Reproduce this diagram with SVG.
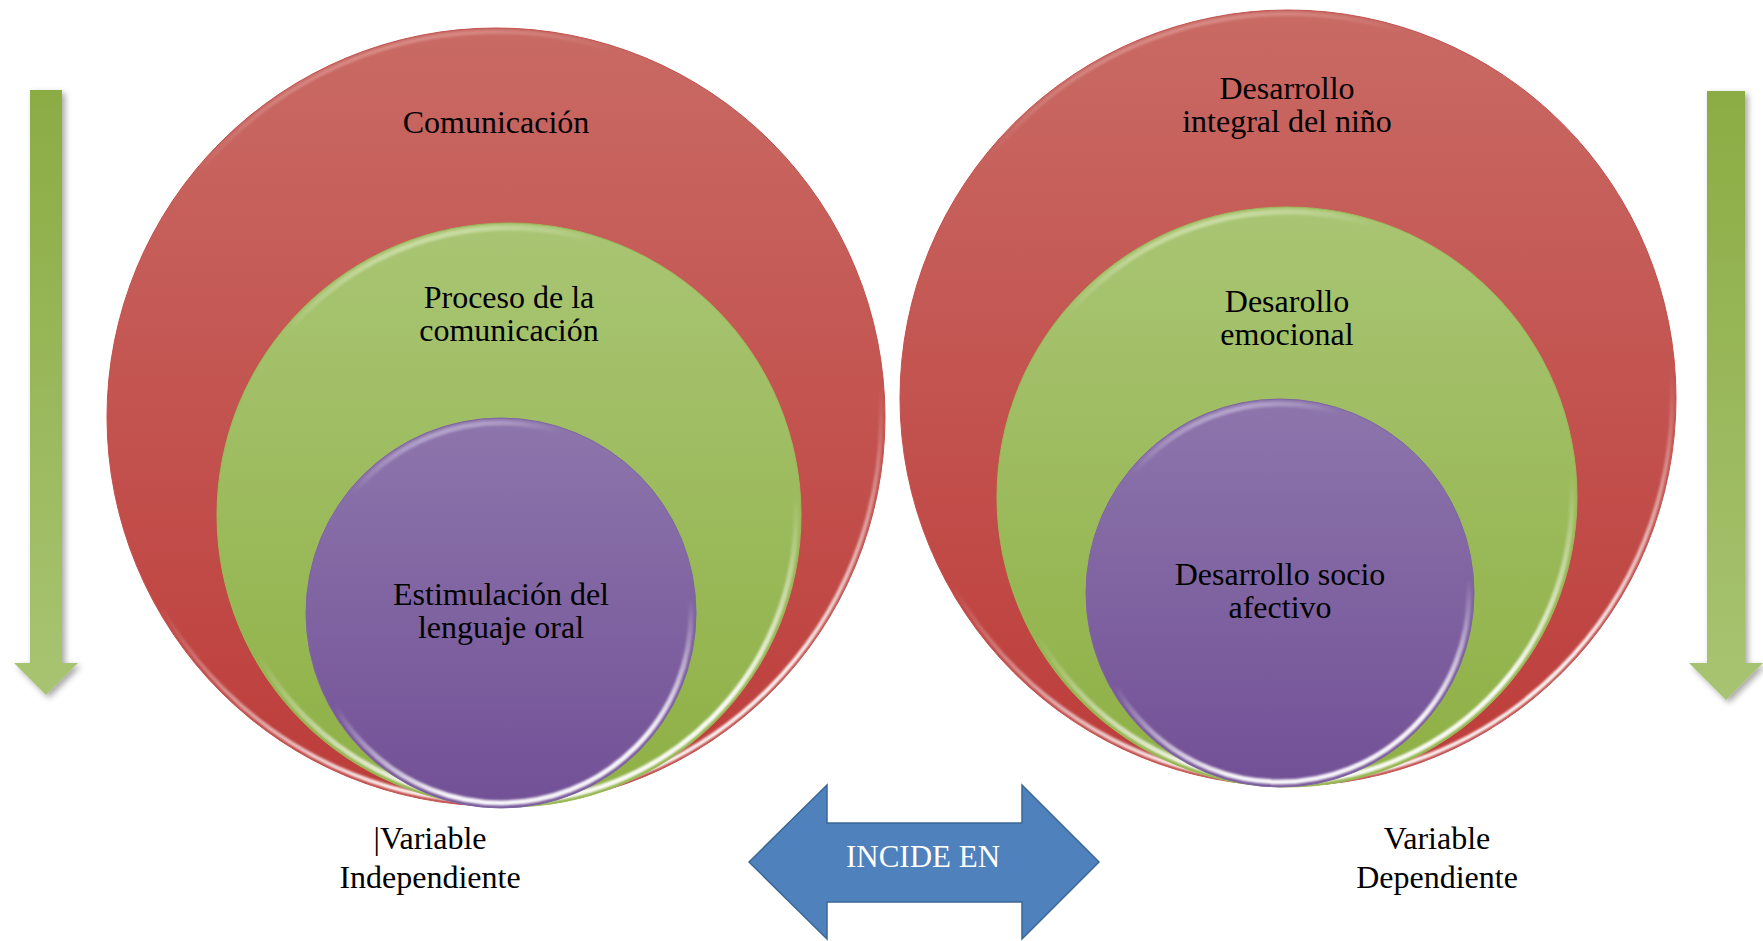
<svg xmlns="http://www.w3.org/2000/svg" width="1763" height="941" viewBox="0 0 1763 941">
<defs>
<linearGradient id="gRed" x1="0" y1="0" x2="0" y2="1"><stop offset="0" stop-color="#c96a64"/><stop offset="1" stop-color="#bd3c3a"/></linearGradient>
<linearGradient id="gGreen" x1="0" y1="0" x2="0" y2="1"><stop offset="0" stop-color="#a9c574"/><stop offset="1" stop-color="#8eb044"/></linearGradient>
<linearGradient id="gPurple" x1="0" y1="0" x2="0" y2="1"><stop offset="0" stop-color="#8d76ac"/><stop offset="1" stop-color="#725096"/></linearGradient>
<linearGradient id="gArrow" x1="0" y1="0" x2="0" y2="1"><stop offset="0" stop-color="#8bac44"/><stop offset="1" stop-color="#a8c472"/></linearGradient>
<linearGradient id="hlRed" x1="0" y1="0" x2="0.3" y2="1"><stop offset="0" stop-color="#ffb0a8" stop-opacity="0.7"/><stop offset="0.2" stop-color="#ffffff" stop-opacity="0"/><stop offset="0.7" stop-color="#ffffff" stop-opacity="0"/><stop offset="1" stop-color="#ffffff" stop-opacity="0.95"/></linearGradient>
<linearGradient id="hlGreen" x1="0" y1="0" x2="0.3" y2="1"><stop offset="0" stop-color="#f4ffc8" stop-opacity="0.95"/><stop offset="0.2" stop-color="#ffffff" stop-opacity="0"/><stop offset="0.7" stop-color="#ffffff" stop-opacity="0"/><stop offset="1" stop-color="#ffffff" stop-opacity="0.95"/></linearGradient>
<linearGradient id="hlPurple" x1="0" y1="0" x2="0.3" y2="1"><stop offset="0" stop-color="#e6d8ff" stop-opacity="0.9"/><stop offset="0.2" stop-color="#ffffff" stop-opacity="0"/><stop offset="0.7" stop-color="#ffffff" stop-opacity="0"/><stop offset="1" stop-color="#ffffff" stop-opacity="0.95"/></linearGradient>
<filter id="soft" x="-5%" y="-5%" width="110%" height="110%"><feGaussianBlur stdDeviation="1.2"/></filter>
<filter id="shadow" x="-50%" y="-5%" width="200%" height="115%"><feDropShadow dx="3" dy="3" stdDeviation="3" flood-color="#000" flood-opacity="0.35"/></filter>
</defs>
<style>
.red{fill:url(#gRed);stroke:#c0504d;stroke-width:1}
.green{fill:url(#gGreen);stroke:#9bbb59;stroke-width:1}
.purple{fill:url(#gPurple);stroke:#8064a2;stroke-width:1}
.hr{fill:none;stroke:url(#hlRed);stroke-width:4;filter:url(#soft)}
.hg{fill:none;stroke:url(#hlGreen);stroke-width:5;filter:url(#soft)}
.hp{fill:none;stroke:url(#hlPurple);stroke-width:5;filter:url(#soft)}
.t{font-family:"Liberation Serif","Times New Roman",serif;font-size:32px;fill:#000;text-anchor:middle}
.tw{font-family:"Liberation Serif","Times New Roman",serif;font-size:31px;fill:#fff;text-anchor:middle}
.garrow{fill:url(#gArrow);filter:url(#shadow)}
</style>

<g id="left-arrow">
<polygon class="garrow" points="30,90 62,90 62,663 78,663 46,695 14,663 30,663"/>
</g>
<g id="right-arrow">
<polygon class="garrow" points="1707,91 1745,91 1745,663 1763,663 1726,700 1689,663 1707,663"/>
</g>

<g id="comunicacion">
<circle class="red" cx="496" cy="417" r="389"/>
<circle class="hr" cx="496" cy="417" r="385"/>
<text class="t" x="496" y="133">Comunicación</text>
</g>
<g id="proceso">
<circle class="green" cx="509" cy="515" r="292"/>
<circle class="hg" cx="509" cy="515" r="287"/>
<text class="t" x="509" y="308">Proceso de la</text>
<text class="t" x="509" y="341">comunicación</text>
</g>
<g id="estimulacion">
<circle class="purple" cx="501" cy="613" r="195"/>
<circle class="hp" cx="501" cy="613" r="190"/>
<text class="t" x="501" y="605">Estimulación del</text>
<text class="t" x="501" y="638">lenguaje oral</text>
</g>

<g id="desarrollo-integral">
<circle class="red" cx="1288" cy="398" r="388"/>
<circle class="hr" cx="1288" cy="398" r="384"/>
<text class="t" x="1287" y="99">Desarrollo</text>
<text class="t" x="1287" y="132">integral del niño</text>
</g>
<g id="desarrollo-emocional">
<circle class="green" cx="1287" cy="497" r="290"/>
<circle class="hg" cx="1287" cy="497" r="285"/>
<text class="t" x="1287" y="312">Desarollo</text>
<text class="t" x="1287" y="345">emocional</text>
</g>
<g id="desarrollo-socio">
<circle class="purple" cx="1280" cy="593" r="194"/>
<circle class="hp" cx="1280" cy="593" r="189"/>
<text class="t" x="1280" y="585">Desarrollo socio</text>
<text class="t" x="1280" y="618">afectivo</text>
</g>

<g id="connectors">
<g id="incide-en">
<polygon points="749,862 827,785 827,823 1022,823 1022,785 1099,862 1022,939 1022,902 827,902 827,939" fill="#4f81bd" stroke="#3b6796" stroke-width="1.5"/>
<text class="tw" x="923" y="867">INCIDE EN</text>
</g>
</g>

<g id="label-independiente">
<text class="t" x="430" y="849">|Variable</text>
<text class="t" x="430" y="888">Independiente</text>
</g>
<g id="label-dependiente">
<text class="t" x="1437" y="849">Variable</text>
<text class="t" x="1437" y="888">Dependiente</text>
</g>
</svg>
